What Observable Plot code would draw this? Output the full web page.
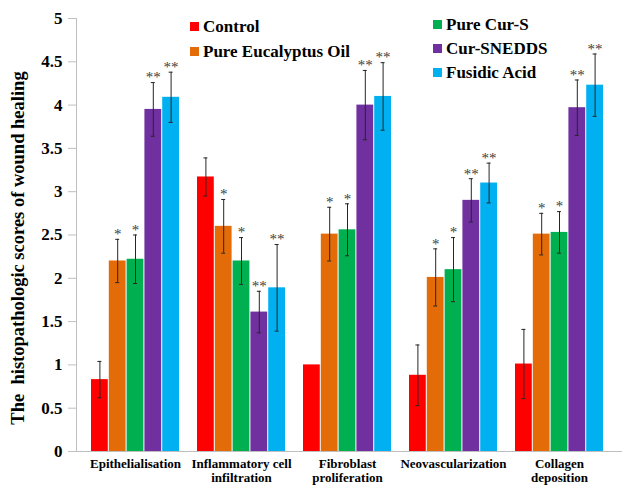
<!DOCTYPE html>
<html>
<head>
<meta charset="utf-8">
<script src="https://cdn.jsdelivr.net/npm/d3@7"></script>
<script src="https://cdn.jsdelivr.net/npm/@observablehq/plot@0.6"></script>
<style>
  html, body { margin: 0; padding: 0; background: #fff; }
  .lg span.sw { display: inline-block; width: 9px; height: 9px; margin-right: 4px; }
</style>
</head>
<body>
<div id="wrap"></div>
<script>
const categories = ["Epithelialisation", "Inflammatory cell\ninfiltration", "Fibroblast\nproliferation", "Neovascularization", "Collagen\ndeposition"];
const series = ["Control", "Pure Eucalyptus Oil", "Pure Cur-S", "Cur-SNEDDS", "Fusidic Acid"];
const colors = ["#ff0000", "#e36c09", "#00b050", "#7030a0", "#00b0f0"];

const controlValues    = [0.83, 3.17, 1.00, 0.88, 1.01];
const eucalyptusValues = [2.20, 2.60, 2.51, 2.01, 2.51];
const curSValues       = [2.22, 2.20, 2.56, 2.10, 2.53];
const snedssValues     = [3.95, 1.61, 4.00, 2.90, 3.97];
const fusidicValues    = [4.09, 1.89, 4.10, 3.10, 4.23];

const controlErrors    = [0.21, 0.22, null, 0.35, 0.40];
const eucalyptusErrors = [0.25, 0.31, 0.31, 0.33, 0.24];
const curSErrors       = [0.28, 0.27, 0.30, 0.37, 0.24];
const snedssErrors     = [0.31, 0.24, 0.40, 0.25, 0.32];
const fusidicErrors    = [0.29, 0.50, 0.39, 0.23, 0.36];

const controlSig    = ["", "", "", "", ""];
const eucalyptusSig = ["*", "*", "*", "*", "*"];
const curSSig       = ["*", "*", "*", "*", "*"];
const snedssSig     = ["**", "**", "**", "**", "**"];
const fusidicSig    = ["**", "**", "**", "**", "**"];

const yTicks = [0, 0.5, 1, 1.5, 2, 2.5, 3, 3.5, 4, 4.5, 5];
const yTitle = "The\u00A0 histopathologic scores of wound healing";

const allValues = [controlValues, eucalyptusValues, curSValues, snedssValues, fusidicValues];
const allErrors = [controlErrors, eucalyptusErrors, curSErrors, snedssErrors, fusidicErrors];
const allSig = [controlSig, eucalyptusSig, curSSig, snedssSig, fusidicSig];

const FONT = "'Liberation Serif', 'Times New Roman', serif";
const W = 624, H = 486, ML = 76, MR = 5, MT = 18, MB = 35;
const padIn = 0.168, padOut = 0.1215;
const step = (W - ML - MR) / (categories.length - padIn + 2 * padOut);
const bw = step * (1 - padIn);
const sub = bw / series.length;
const capHalf = 2.5;

const marks = [];
series.forEach((s, i) => {
  const rows = categories.map((c, j) => ({
    cat: c, value: allValues[i][j], err: allErrors[i][j], sig: allSig[i][j]
  }));
  const withErr = rows.filter(d => d.err != null);
  const off = -bw / 2 + (i + 0.5) * sub;
  marks.push(Plot.barY(rows, {
    x: "cat", y: "value", fill: colors[i],
    insetLeft: i * sub, insetRight: (series.length - 1 - i) * sub
  }));
  marks.push(Plot.ruleX(withErr, {
    x: "cat", y1: d => d.value - d.err, y2: d => d.value + d.err,
    dx: off, stroke: "#262626", strokeWidth: 1
  }));
  for (const key of ["lo", "hi"]) {
    marks.push(Plot.tickY(withErr, {
      x: "cat", y: d => key === "hi" ? d.value + d.err : d.value - d.err,
      dx: off, insetLeft: bw / 2 - capHalf, insetRight: bw / 2 - capHalf,
      stroke: "#262626", strokeWidth: 1
    }));
  }
  marks.push(Plot.text(rows.filter(d => d.sig), {
    x: "cat", y: d => d.value + (d.err || 0), text: "sig",
    dx: off, dy: -5, lineAnchor: "middle", fontSize: 15, fill: "#404040",
    fontFamily: FONT, fontWeight: "normal"
  }));
});

const chart = Plot.plot({
  width: W, height: H,
  marginLeft: ML, marginRight: MR, marginTop: MT, marginBottom: MB,
  style: { background: "#fff", color: "#000", overflow: "visible", fontFamily: FONT, fontWeight: "bold" },
  x: { type: "band", domain: categories, paddingInner: padIn, paddingOuter: padOut, align: 0.5 },
  y: { domain: [0, 5] },
  marks: [
    ...marks,
    Plot.ruleY([0], { stroke: "#bfbfbf", insetLeft: -6, insetRight: -3 }),
    Plot.frame({ anchor: "left", stroke: "#bfbfbf" }),
    Plot.axisY({ ticks: yTicks, tickFormat: d => String(d), tickSize: 8, tickPadding: 6, fontSize: 17, label: null, stroke: "#bfbfbf", fill: "#000", fontFamily: FONT, fontWeight: "bold" }),
    Plot.axisX({ tickSize: 0, tickPadding: 6, fontSize: 13, lineHeight: 1.1, label: null, fill: "#000", fontFamily: FONT, fontWeight: "bold" }),
    Plot.text([yTitle], { frameAnchor: "left", textAnchor: "middle", rotate: -90, dx: -58, dy: 13, fontSize: 18.5, fill: "#000", fontFamily: FONT, fontWeight: "bold" })
  ]
});

const wrap = document.getElementById("wrap");
wrap.style.position = "relative";
wrap.style.width = W + "px";
wrap.style.height = H + "px";
wrap.style.fontFamily = FONT;
wrap.appendChild(chart);

const legendPos = [
  { left: 190, top: 26.5 }, { left: 190, top: 51 },
  { left: 433, top: 24 }, { left: 433, top: 48.5 }, { left: 433, top: 72.5 }
];
series.forEach((s, i) => {
  const el = document.createElement("div");
  el.className = "lg";
  Object.assign(el.style, {
    position: "absolute", display: "flex", alignItems: "center",
    fontFamily: FONT, fontWeight: "bold", fontSize: "17px", color: "#000",
    whiteSpace: "nowrap", lineHeight: "1",
    left: legendPos[i].left + "px", top: (legendPos[i].top - 9) + "px", height: "18px"
  });
  const sw = document.createElement("span");
  sw.className = "sw";
  sw.style.background = colors[i];
  el.appendChild(sw);
  el.appendChild(document.createTextNode(s));
  wrap.appendChild(el);
});
</script>
</body>
</html>
